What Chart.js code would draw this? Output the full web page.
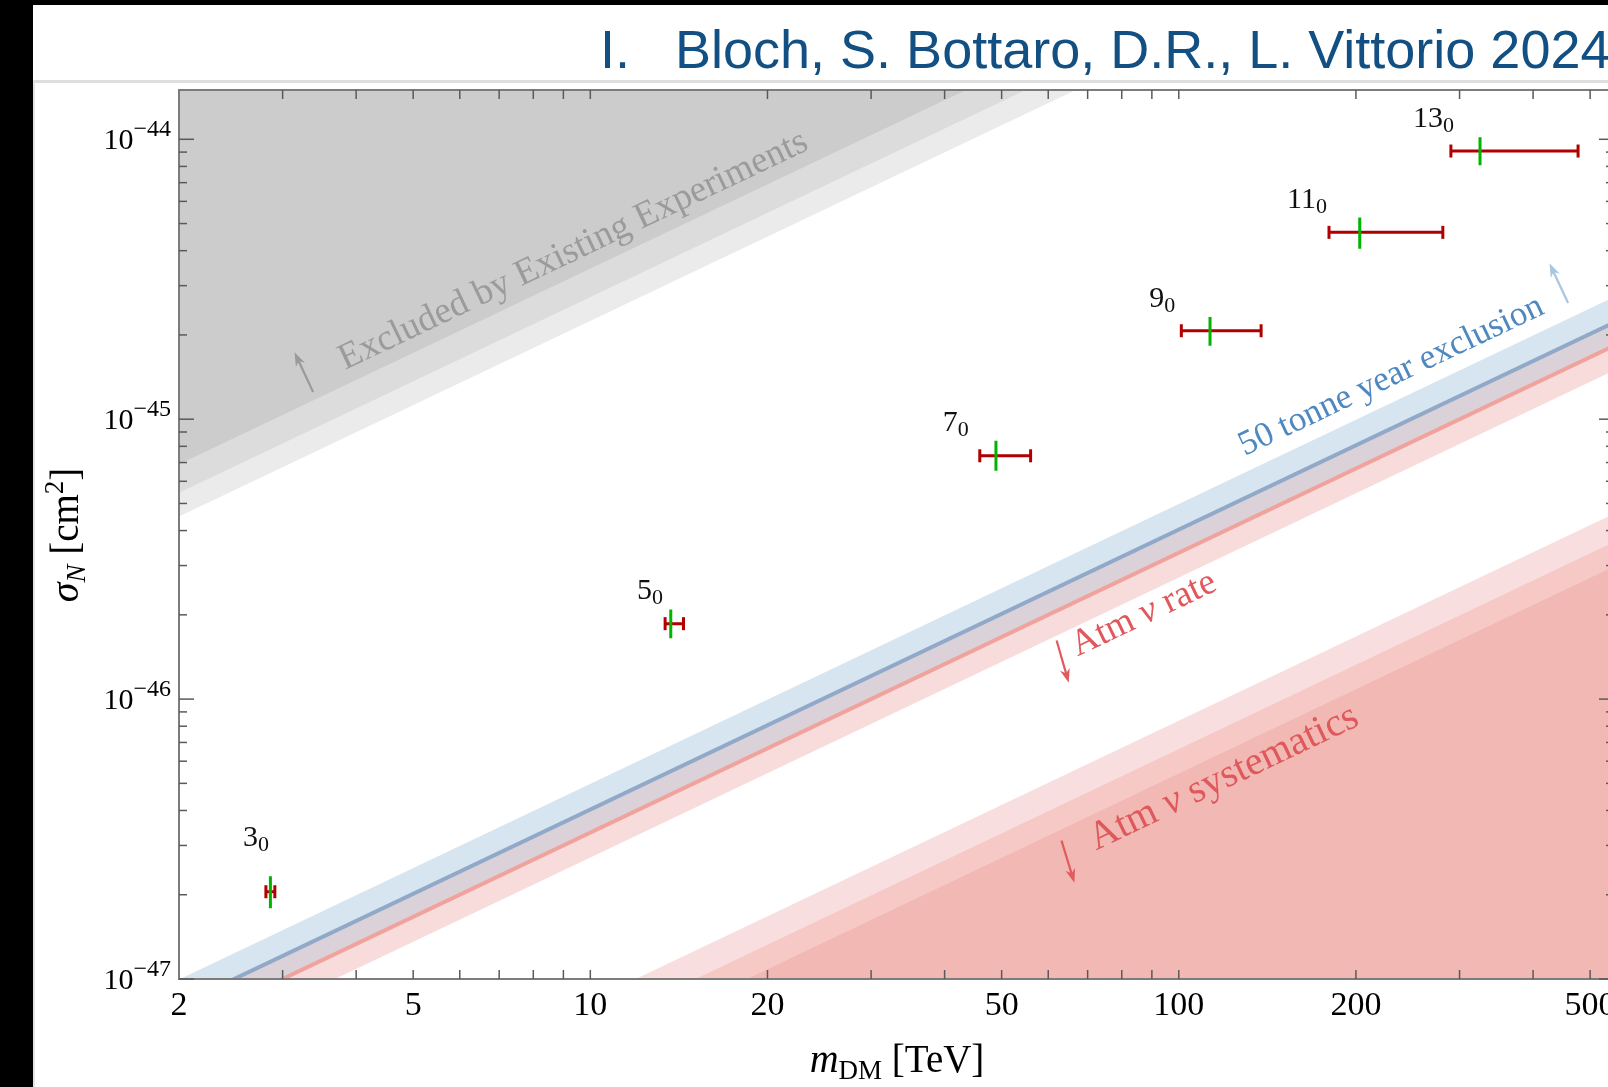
<!DOCTYPE html>
<html>
<head>
<meta charset="utf-8">
<script src="https://cdn.jsdelivr.net/npm/chart.js@4.4.1/dist/chart.umd.min.js"></script>
<style>
  html, body { margin: 0; padding: 0; background: #fff; overflow: hidden; width: 1608px; height: 1087px; }
  #wrap { position: absolute; left: 0; top: 0; width: 1614px; height: 1087px; }
  .blk { position: absolute; background: #000; }
  #rule { position: absolute; left: 33px; top: 80px; width: 1575px; height: 3px; background: #dedede; }
  #edge { position: absolute; left: 33px; top: 80px; width: 2px; height: 1007px; background: #e4e4e4; }
  #title { position: absolute; left: 600px; top: 22px; font-family: "Liberation Sans", Arial, sans-serif;
           font-size: 54px; line-height: 54px; color: #124f83; white-space: pre; }
</style>
</head>
<body>
<div id="wrap"><canvas id="myChart" width="1614" height="1087"></canvas></div>
<div id="rule"></div>
<div id="edge"></div>
<div class="blk" style="left:0;top:0;width:1608px;height:5px"></div>
<div class="blk" style="left:0;top:0;width:33px;height:1087px"></div>
<div id="title">I.   Bloch, S. Bottaro, D.R., L. Vittorio 2024</div>
<script>
// multiplet points (mass in TeV, cross section in cm^2)
const multiplets = ['3', '5', '7', '9', '11', '13'];
const massCentral = [2.86, 13.7, 48.9, 113, 203, 325];
const massLow = [2.81, 13.4, 45.9, 101, 180, 290];
const massHigh = [2.91, 14.4, 56.0, 138, 281, 477];
const sigmaCentral = [2.05e-47, 1.86e-46, 7.4e-46, 2.07e-45, 4.65e-45, 9.08e-45];
const sigmaLow = [1.79e-47, 1.65e-46, 6.54e-46, 1.83e-45, 4.06e-45, 8.07e-45];
const sigmaHigh = [2.33e-47, 2.09e-46, 8.37e-46, 2.32e-45, 5.25e-45, 1.016e-44];

// straight band edges (value at each end of the mass range)
const bandMass = [2, 549];
const excludedLight = [4.49e-46, 1.232e-43];
const excludedMid = [5.46e-46, 1.499e-43];
const excludedDark = [6.9e-46, 1.894e-43];
const tonneYearUpper = [9.96e-48, 2.734e-45];
const tonneYearLine = [8.06e-48, 2.214e-45];
const atmRateLine = [6.67e-48, 1.83e-45];
const atmRateLower = [5.43e-48, 1.492e-45];
const atmSysLight = [1.675e-48, 4.598e-46];
const atmSysMid = [1.325e-48, 3.638e-46];
const atmSysDark = [1.083e-48, 2.974e-46];

const xTickValues = [2, 5, 10, 20, 50, 100, 200, 500];
const yTickExponents = [-44, -45, -46, -47];

const serif = '"Liberation Serif", "DejaVu Serif", serif';
const font = (size, style) => (style ? style + ' ' : '') + size + 'px ' + serif;

// text pieces drawn one after another (for sub/superscripts)
function drawRuns(ctx, runs, x, y, align) {
  let total = 0;
  runs.forEach(r => { ctx.font = r.font; r.w = ctx.measureText(r.t).width; total += r.w; });
  let cx = align === 'right' ? x - total : align === 'center' ? x - total / 2 : x;
  ctx.textAlign = 'left';
  ctx.textBaseline = 'alphabetic';
  runs.forEach(r => { ctx.font = r.font; ctx.fillText(r.t, cx, y + (r.dy || 0)); cx += r.w; });
}

const notes = [
  { m: 3.83, s: 1.498e-45, color: '#9b9b9b', runs: [{ t: 'Excluded by Existing Experiments', font: font(37) }] },
  { m: 129.5, s: 7.38e-46, color: '#4f88c0', runs: [{ t: '50 tonne year exclusion', font: font(35) }] },
  { m: 67.3, s: 1.42e-46, color: '#e0585b', runs: [{ t: 'Atm ', font: font(37) }, { t: 'ν', font: font(37, 'italic') }, { t: ' rate', font: font(37) }] },
  { m: 72.3, s: 2.88e-47, color: '#e0585b', runs: [{ t: 'Atm ', font: font(40) }, { t: 'ν', font: font(40, 'italic') }, { t: ' systematics', font: font(40) }] }
];
// tilt: angle from vertical in degrees (positive leans right)
const arrows = [
  { m: 3.38, s: 1.25e-45, up: true, tilt: -25, color: '#9a9a9a' },
  { m: 458.7, s: 2.6e-45, up: true, tilt: -25, color: '#a9c6e0' },
  { m: 62.0, s: 1.62e-46, up: false, tilt: 16, color: '#e05a5e' },
  { m: 63.2, s: 3.12e-47, up: false, tilt: 17, color: '#e05a5e' }
];
// small pixel nudges of the multiplet labels
const labelNudge = [[5, -20], [0, 0], [-9, 0], [-4, 0], [0, 0], [5, 0]];

const decor = {
  id: 'decor',
  afterDatasetsDraw(chart) {
    const { ctx, chartArea: a, scales: { x, y } } = chart;
    const seg = (x1, y1, x2, y2) => { ctx.beginPath(); ctx.moveTo(x1, y1); ctx.lineTo(x2, y2); ctx.stroke(); };

    ctx.save();
    ctx.beginPath();
    ctx.rect(a.left, a.top, a.right - a.left, a.bottom - a.top);
    ctx.clip();

    // slope of the bands on screen
    const p0 = [x.getPixelForValue(2), y.getPixelForValue(1e-47)];
    const p1 = [x.getPixelForValue(20), y.getPixelForValue(1e-46)];
    const ang = Math.atan2(p0[1] - p1[1], p1[0] - p0[0]);

    notes.forEach(n => {
      ctx.save();
      ctx.translate(x.getPixelForValue(n.m), y.getPixelForValue(n.s));
      ctx.rotate(-ang);
      ctx.fillStyle = n.color;
      drawRuns(ctx, n.runs, 0, 0, 'left');
      ctx.restore();
    });

    arrows.forEach(ar => {
      const t = ar.tilt * Math.PI / 180;
      const d = ar.up ? -1 : 1;
      const ux = Math.sin(t), uy = d * Math.cos(t);
      const tx = x.getPixelForValue(ar.m), ty = y.getPixelForValue(ar.s);
      const len = 44, hl = 14, hw = 5;
      const hx = tx + ux * len, hy = ty + uy * len;
      ctx.strokeStyle = ar.color; ctx.fillStyle = ar.color; ctx.lineWidth = 2.2;
      seg(tx, ty, hx - ux * hl * 0.6, hy - uy * hl * 0.6);
      ctx.beginPath();
      ctx.moveTo(hx, hy);
      ctx.lineTo(hx - ux * hl - uy * hw, hy - uy * hl + ux * hw);
      ctx.lineTo(hx - ux * hl * 0.7, hy - uy * hl * 0.7);
      ctx.lineTo(hx - ux * hl + uy * hw, hy - uy * hl - ux * hw);
      ctx.closePath();
      ctx.fill();
    });

    ctx.fillStyle = '#111';
    multiplets.forEach((n, i) => {
      drawRuns(ctx, [{ t: n, font: font(30) }, { t: '0', font: font(22), dy: 5 }],
        x.getPixelForValue(massLow[i]) - 2 + labelNudge[i][0],
        y.getPixelForValue(sigmaHigh[i]) - 10 + labelNudge[i][1], 'right');
    });
    ctx.restore();

    // frame and inner ticks
    ctx.save();
    ctx.strokeStyle = '#7c7c7c'; ctx.lineWidth = 2;
    ctx.strokeRect(a.left, a.top, a.right - a.left, a.bottom - a.top);
    ctx.strokeStyle = '#5a5a5a'; ctx.lineWidth = 1.5;
    for (let e = 0; e <= 3; e++) {
      for (let k = 1; k <= 9; k++) {
        const v = k * Math.pow(10, e);
        if (v <= 2 || v > x.max) continue;
        const px = x.getPixelForValue(v);
        seg(px, a.bottom, px, a.bottom - 9);
        seg(px, a.top, px, a.top + 9);
      }
    }
    for (let e = -47; e <= -44; e++) {
      for (let k = 1; k <= 9; k++) {
        const v = k * Math.pow(10, e);
        if (v > y.max) continue;
        const py = y.getPixelForValue(v);
        const len = k === 1 ? 15 : 8;
        seg(a.left, py, a.left + len, py);
        seg(a.right, py, a.right - len, py);
      }
    }

    ctx.fillStyle = '#000';
    // x tick labels
    xTickValues.forEach(v => {
      drawRuns(ctx, [{ t: String(v), font: font(34) }], x.getPixelForValue(v), a.bottom + 36, 'center');
    });
    // y tick labels with exponents
    yTickExponents.forEach(e => {
      const py = y.getPixelForValue(Math.pow(10, e));
      drawRuns(ctx, [{ t: '10', font: font(30) }, { t: '−' + Math.abs(e), font: font(24), dy: -13 }],
        a.left - 8, py + 10, 'right');
    });

    // axis titles
    drawRuns(ctx, [{ t: 'm', font: font(40, 'italic') }, { t: 'DM', font: font(27), dy: 7 },
      { t: ' [TeV]', font: font(39) }], 897, 1072, 'center');
    ctx.translate(78, 535);
    ctx.rotate(-Math.PI / 2);
    drawRuns(ctx, [{ t: 'σ', font: font(40, 'italic') }, { t: 'N', font: font(27, 'italic'), dy: 7 },
      { t: ' [cm', font: font(39) }, { t: '2', font: font(27), dy: -15 }, { t: ']', font: font(39) }], 0, 0, 'center');
    ctx.restore();
  }
};

const edge = (vals, color, fill) => ({
  data: bandMass.map((m, i) => ({ x: m, y: vals[i] })),
  borderWidth: 0, pointRadius: 0, backgroundColor: color, fill: fill, clip: 0
});
const stroke = (vals, color) => ({
  data: bandMass.map((m, i) => ({ x: m, y: vals[i] })),
  borderColor: color, borderWidth: 4, pointRadius: 0, fill: false, clip: 0
});

const datasets = [
  { // green sigma range
    data: massCentral.flatMap((m, i) => [{ x: m, y: sigmaLow[i] }, { x: m, y: sigmaHigh[i] }, { x: m, y: null }]),
    borderColor: '#00b400', borderWidth: 3, pointRadius: 0, spanGaps: false, fill: false
  },
  { // red mass range with caps
    data: massLow.flatMap((lo, i) => [{ x: lo, y: sigmaCentral[i] }, { x: massHigh[i], y: sigmaCentral[i] }, { x: massHigh[i], y: null }]),
    borderColor: '#b00000', borderWidth: 3, spanGaps: false, fill: false,
    pointStyle: 'line', rotation: 90, pointRadius: 6.5, pointBorderWidth: 3, pointBorderColor: '#b00000'
  },
  stroke(tonneYearLine, '#91a9c9'),
  stroke(atmRateLine, '#f0a39d'),
  edge(tonneYearUpper, '#d7e5f0', '+1'),
  edge(tonneYearLine, '#dbd1d8', '+1'),
  edge(atmRateLine, '#f8dcdc', '+1'),
  edge(atmRateLower, 'rgba(0,0,0,0)', false),
  edge(atmSysDark, '#f2b8b3', 'start'),
  edge(atmSysMid, '#f6c9c6', 'start'),
  edge(atmSysLight, '#f8dede', 'start'),
  edge(excludedDark, '#cccccc', 'end'),
  edge(excludedMid, '#dcdcdc', 'end'),
  edge(excludedLight, '#ebebeb', 'end')
];

new Chart(document.getElementById('myChart'), {
  type: 'line',
  data: { datasets: datasets },
  options: {
    responsive: false,
    animation: false,
    devicePixelRatio: 1,
    events: [],
    elements: { line: { tension: 0 } },
    layout: { autoPadding: false, padding: { top: 90, left: 0, right: 0, bottom: 0 } },
    plugins: { legend: { display: false }, tooltip: { enabled: false }, title: { display: false } },
    scales: {
      x: {
        type: 'logarithmic', min: 2, max: 549,
        grid: { display: false, drawTicks: false },
        border: { display: false },
        ticks: { display: false },
        afterFit: s => { s.height = 108; }
      },
      y: {
        type: 'logarithmic', min: 1e-47, max: 1.5e-44,
        grid: { display: false, drawTicks: false },
        border: { display: false },
        ticks: { display: false },
        afterFit: s => { s.width = 179; }
      }
    }
  },
  plugins: [decor]
});
</script>
</body>
</html>
